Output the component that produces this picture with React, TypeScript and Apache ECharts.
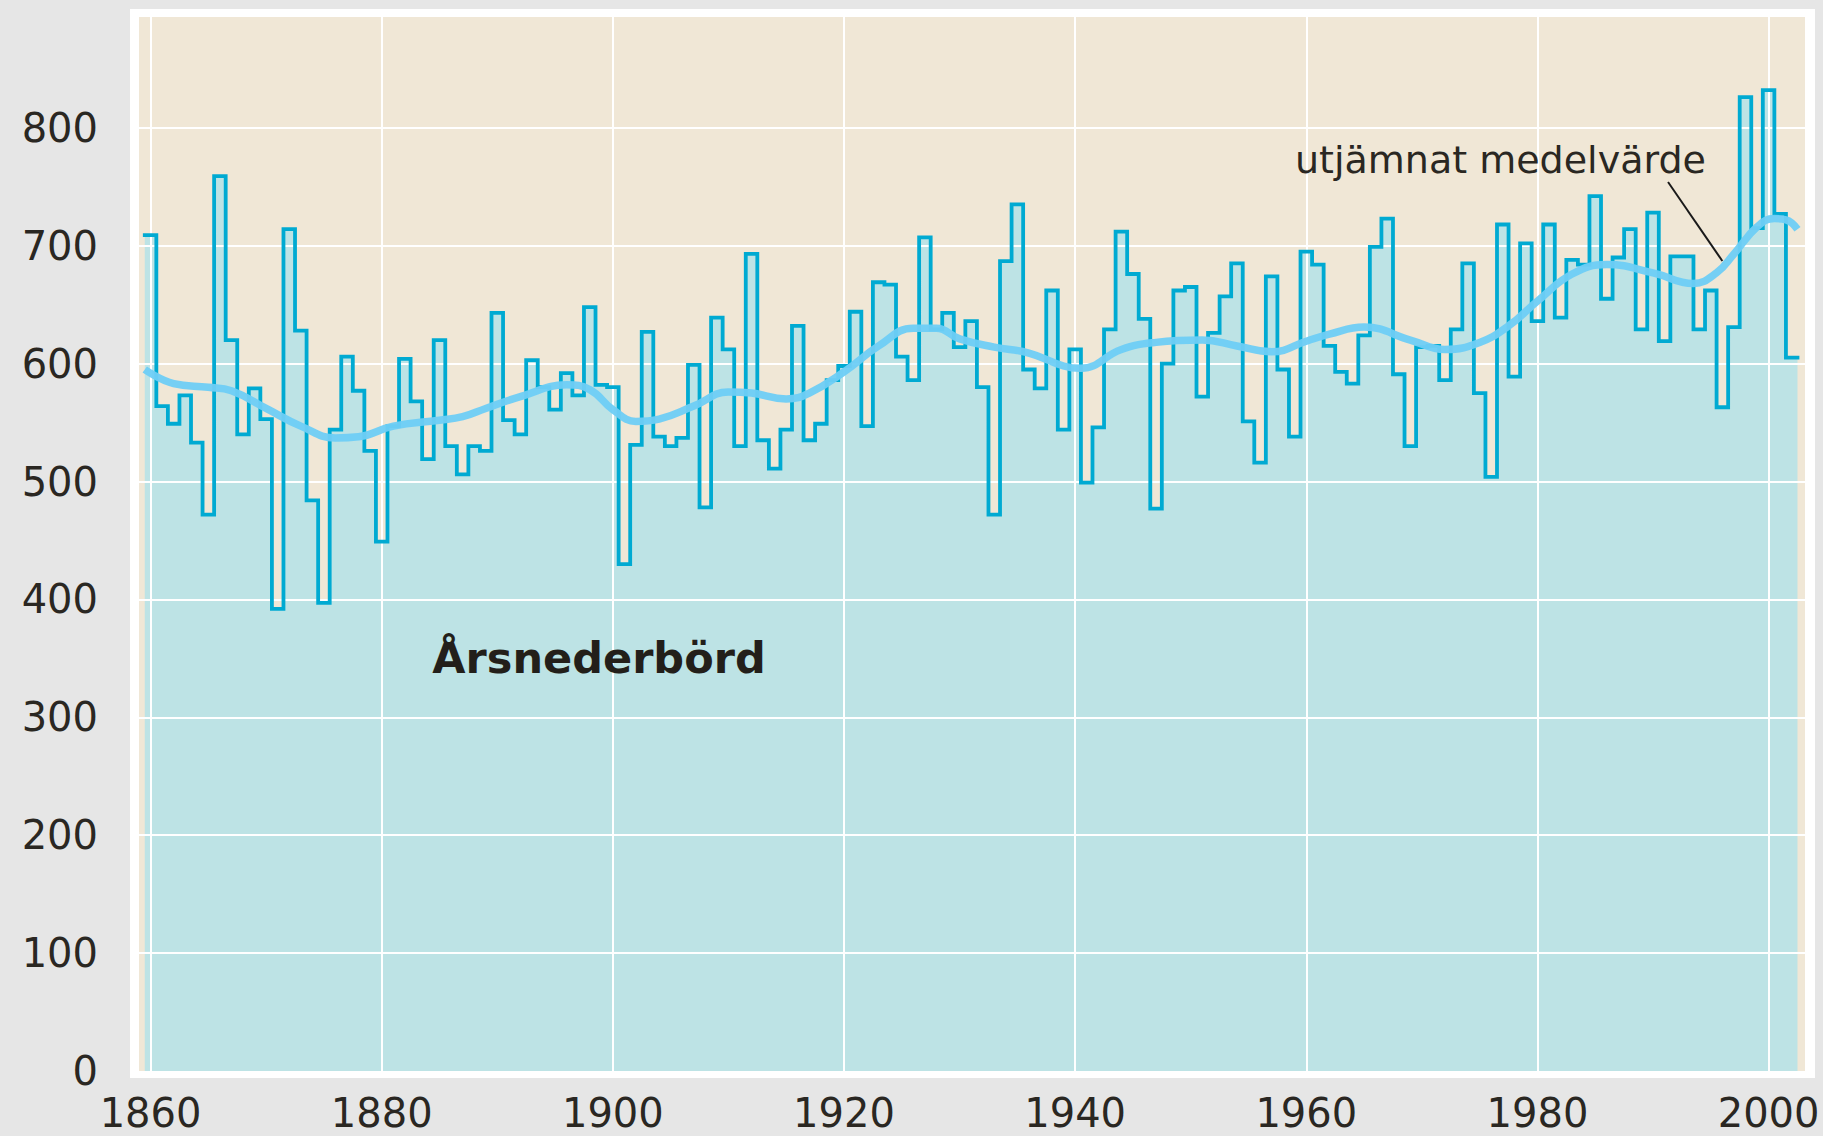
import React, { useEffect, useRef } from "react";
import * as echarts from "echarts";

// Year of each annual value (Årsnederbörd, mm)
const years = [
  1860, 1861, 1862, 1863, 1864, 1865, 1866, 1867, 1868, 1869,
  1870, 1871, 1872, 1873, 1874, 1875, 1876, 1877, 1878, 1879,
  1880, 1881, 1882, 1883, 1884, 1885, 1886, 1887, 1888, 1889,
  1890, 1891, 1892, 1893, 1894, 1895, 1896, 1897, 1898, 1899,
  1900, 1901, 1902, 1903, 1904, 1905, 1906, 1907, 1908, 1909,
  1910, 1911, 1912, 1913, 1914, 1915, 1916, 1917, 1918, 1919,
  1920, 1921, 1922, 1923, 1924, 1925, 1926, 1927, 1928, 1929,
  1930, 1931, 1932, 1933, 1934, 1935, 1936, 1937, 1938, 1939,
  1940, 1941, 1942, 1943, 1944, 1945, 1946, 1947, 1948, 1949,
  1950, 1951, 1952, 1953, 1954, 1955, 1956, 1957, 1958, 1959,
  1960, 1961, 1962, 1963, 1964, 1965, 1966, 1967, 1968, 1969,
  1970, 1971, 1972, 1973, 1974, 1975, 1976, 1977, 1978, 1979,
  1980, 1981, 1982, 1983, 1984, 1985, 1986, 1987, 1988, 1989,
  1990, 1991, 1992, 1993, 1994, 1995, 1996, 1997, 1998, 1999,
  2000, 2001, 2002,
];

const precipitation = [
  709, 564, 549, 573, 533, 472, 759, 620, 540, 579,
  553, 392, 714, 628, 484, 397, 544, 606, 577, 526,
  449, 547, 604, 568, 519, 620, 530, 506, 530, 526,
  643, 552, 540, 603, 580, 561, 592, 573, 648, 582,
  580, 430, 531, 627, 538, 530, 537, 599, 478, 639,
  612, 530, 693, 535, 511, 544, 632, 535, 549, 586,
  598, 644, 547, 669, 667, 606, 586, 707, 629, 643,
  614, 636, 580, 472, 687, 735, 595, 579, 662, 544,
  612, 499, 546, 629, 712, 676, 638, 477, 600, 662,
  665, 572, 626, 657, 685, 551, 516, 674, 595, 538,
  695, 684, 615, 593, 583, 624, 699, 723, 591, 530,
  614, 615, 586, 629, 685, 575, 504, 718, 589, 702,
  636, 718, 639, 688, 684, 742, 655, 690, 714, 629,
  728, 619, 691, 691, 629, 662, 563, 631, 826, 715,
  832, 727, 605,
];

// Smoothed mean ("utjämnat medelvärde")
const smoothYears = [
  1859.5, 1862, 1865, 1867, 1870, 1873, 1876, 1878, 1881, 1885,
  1887, 1889, 1892, 1896, 1898, 1900, 1902, 1904, 1907, 1910,
  1912, 1915, 1917, 1920, 1923, 1926, 1928, 1930, 1933, 1936,
  1939, 1940.5, 1944, 1947, 1951, 1954, 1957, 1960, 1962, 1965,
  1969, 1972, 1975, 1977.5, 1980, 1983, 1986, 1990, 1993.5, 1995.5,
  1997, 1999, 2000.5, 2001.5, 2002.5,
];
const smoothValues = [
  595, 583, 580, 577, 562, 547, 537, 538, 547, 552,
  555, 562, 572, 582, 578, 561, 551, 553, 564, 576,
  575, 570, 575, 593, 615, 630, 630, 621, 614, 609,
  598, 596, 612, 618, 620, 615, 610, 619, 625, 631,
  620, 612, 618, 632, 653, 676, 684, 677, 668, 677,
  693, 716, 723, 722, 714,
];

const xTickLabels = [1860, 1880, 1900, 1920, 1940, 1960, 1980, 2000];
const yTickLabels = [0, 100, 200, 300, 400, 500, 600, 700, 800];

// leader line from the label to the smoothed curve (year, value)
const leaderStart = [1991.3, 754];
const leaderEnd = [1996, 687];

const TEXT = "#2a2722";

export default function App() {
  const ref = useRef<HTMLDivElement>(null);

  useEffect(() => {
    if (!ref.current) return;
    const chart = echarts.init(ref.current, undefined, { renderer: "svg" });

    const stepData: number[][] = years.map((y, i) => [y - 0.5, precipitation[i]]);
    stepData.push([years[years.length - 1] + 0.5, precipitation[precipitation.length - 1]]);
    const smoothData = smoothYears.map((y, i) => [y, smoothValues[i]]);

    const gridLines = [
      ...xTickLabels.map((v) => ({ xAxis: v })),
      ...yTickLabels.filter((v) => v > 0).map((v) => ({ yAxis: v })),
    ];

    chart.setOption({
      animation: false,
      backgroundColor: "transparent",
      grid: {
        left: 139,
        right: 18,
        top: 17,
        bottom: 65,
        show: true,
        backgroundColor: "#f0e7d6",
        borderWidth: 0,
      },
      xAxis: {
        type: "value",
        min: 1859,
        max: 2003.15,
        axisLine: { show: false },
        axisTick: { show: false },
        splitLine: { show: false },
        axisLabel: {
          customValues: xTickLabels,
          formatter: (v: number) => String(v),
          fontFamily: "DejaVu Sans",
          fontSize: 40,
          color: TEXT,
          margin: 22,
        },
      },
      yAxis: {
        type: "value",
        min: 0,
        max: 894,
        axisLine: { show: false },
        axisTick: { show: false },
        splitLine: { show: false },
        axisLabel: {
          customValues: yTickLabels,
          formatter: (v: number) => String(v),
          fontFamily: "DejaVu Sans",
          fontSize: 40,
          color: TEXT,
          margin: 41,
        },
      },
      series: [
        {
          name: "fill",
          type: "line",
          step: "end",
          data: stepData,
          symbol: "none",
          silent: true,
          z: 2,
          lineStyle: { width: 0, opacity: 0 },
          areaStyle: { color: "#bde3e5", opacity: 1 },
          markLine: {
            silent: true,
            symbol: ["none", "none"],
            z: 3,
            animation: false,
            label: { show: false },
            lineStyle: { color: "#ffffff", width: 2, type: "solid" },
            emphasis: { disabled: true },
            data: gridLines,
          },
        },
        {
          name: "Årsnederbörd",
          type: "line",
          step: "end",
          data: stepData,
          symbol: "none",
          silent: true,
          z: 4,
          lineStyle: { color: "#00aad2", width: 3.8, cap: "square", join: "miter" },
        },
        {
          name: "utjämnat medelvärde",
          type: "line",
          data: smoothData,
          smooth: 0.45,
          symbol: "none",
          silent: true,
          z: 5,
          lineStyle: { color: "#6ecdf5", width: 7.5, opacity: 0.95 },
          markLine: {
            silent: true,
            symbol: ["none", "none"],
            z: 6,
            animation: false,
            label: { show: false },
            lineStyle: { color: "#1a1a1a", width: 2, type: "solid" },
            emphasis: { disabled: true },
            data: [[{ coord: leaderStart }, { coord: leaderEnd }]],
          },
        },
      ],
      graphic: [
        {
          type: "text",
          x: 599,
          y: 658,
          z: 20,
          silent: true,
          style: {
            text: "Årsnederbörd",
            font: 'bold 43px "DejaVu Sans"',
            fill: "#231f1a",
            textAlign: "center",
            textVerticalAlign: "middle",
          },
        },
        {
          type: "text",
          x: 1295,
          y: 160,
          z: 20,
          silent: true,
          style: {
            text: "utjämnat medelvärde",
            font: '38px "DejaVu Sans"',
            fill: "#2a2722",
            textAlign: "left",
            textVerticalAlign: "middle",
          },
        },
      ],
    });

    return () => chart.dispose();
  }, []);

  return (
    <div
      style={{
        position: "fixed",
        left: 0,
        top: 0,
        width: 1823,
        height: 1136,
        background: "#e6e6e6",
        overflow: "hidden",
      }}
    >
      <div
        style={{
          position: "absolute",
          left: 130,
          top: 9,
          width: 1685,
          height: 1069,
          background: "#ffffff",
        }}
      />
      <div
        ref={ref}
        style={{ position: "absolute", left: 0, top: 0, width: 1823, height: 1136 }}
      />
    </div>
  );
}
